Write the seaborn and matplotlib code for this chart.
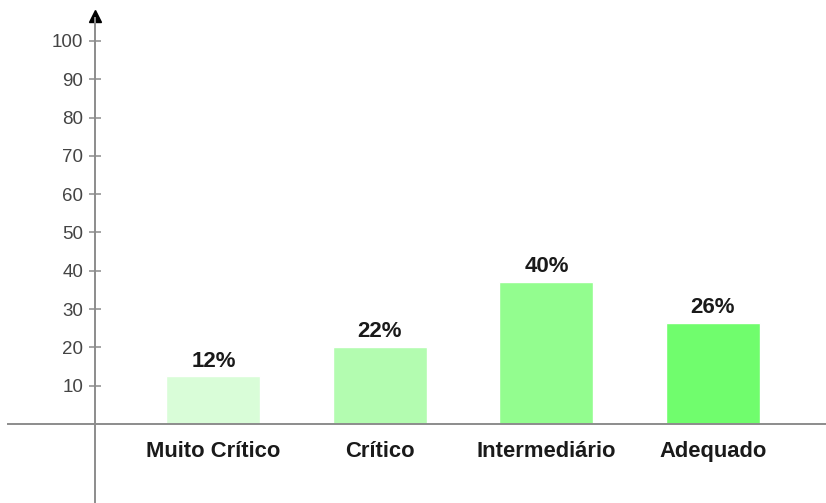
import matplotlib
matplotlib.use("Agg")
import matplotlib.pyplot as plt
import seaborn as sns
import pandas as pd

categories = ["Muito Crítico", "Crítico", "Intermediário", "Adequado"]
bar_heights = [12.4, 20.2, 37.2, 26.4]
bar_labels = ["12%", "22%", "40%", "26%"]
colors = ["#d9fdd8", "#b3fcb0", "#93fd8f", "#70fd6d"]
yticks = [10, 20, 30, 40, 50, 60, 70, 80, 90, 100]

sns.set_theme(style="white")
plt.rcParams["font.family"] = ["Liberation Sans", "DejaVu Sans"]

df = pd.DataFrame({"cat": categories, "val": bar_heights})

fig = plt.figure(figsize=(8.26, 5.03), dpi=100)
ax = fig.add_axes([0, 0, 1, 1])
sns.barplot(data=df, x="cat", y="val", hue="cat", order=categories,
            hue_order=categories, palette=colors, width=0.565,
            saturation=1, legend=False, ax=ax)

ax.set_xlim(-1.282, 3.679)
ax.set_ylim(-20.63, 110.7)

line_c = "#8c8c8c"
for s in ["top", "right"]:
    ax.spines[s].set_visible(False)
ax.spines["left"].set_position(("data", -0.712))
ax.spines["bottom"].set_position(("data", 0))
ax.spines["left"].set_bounds(-20.4, 106)
ax.spines["bottom"].set_bounds(-1.234, 3.679)
for s in ["left", "bottom"]:
    ax.spines[s].set_color(line_c)
    ax.spines[s].set_linewidth(1.4)

ax.set_yticks(yticks)
ax.set_yticklabels([str(v) for v in yticks])
ax.tick_params(axis="y", direction="inout", length=9, width=1.1, color=line_c,
               labelsize=13.5, labelcolor="#444444", pad=4, left=True)
ax.tick_params(axis="x", length=0, pad=12, labelsize=15.8, labelcolor="#1a1a1a")
for t in ax.get_xticklabels():
    t.set_fontweight("bold")
ax.set_xlabel("")
ax.set_ylabel("")

# arrow head on y-axis
ax.plot([-0.712], [106.6], marker="^", markersize=8, color="black", clip_on=False)

for i, cont in enumerate(ax.containers):
    ax.bar_label(cont, labels=[bar_labels[i]], padding=3.5, fontsize=16,
                 fontweight="bold", color="#1a1a1a")

fig.savefig("out.png", dpi=100)
